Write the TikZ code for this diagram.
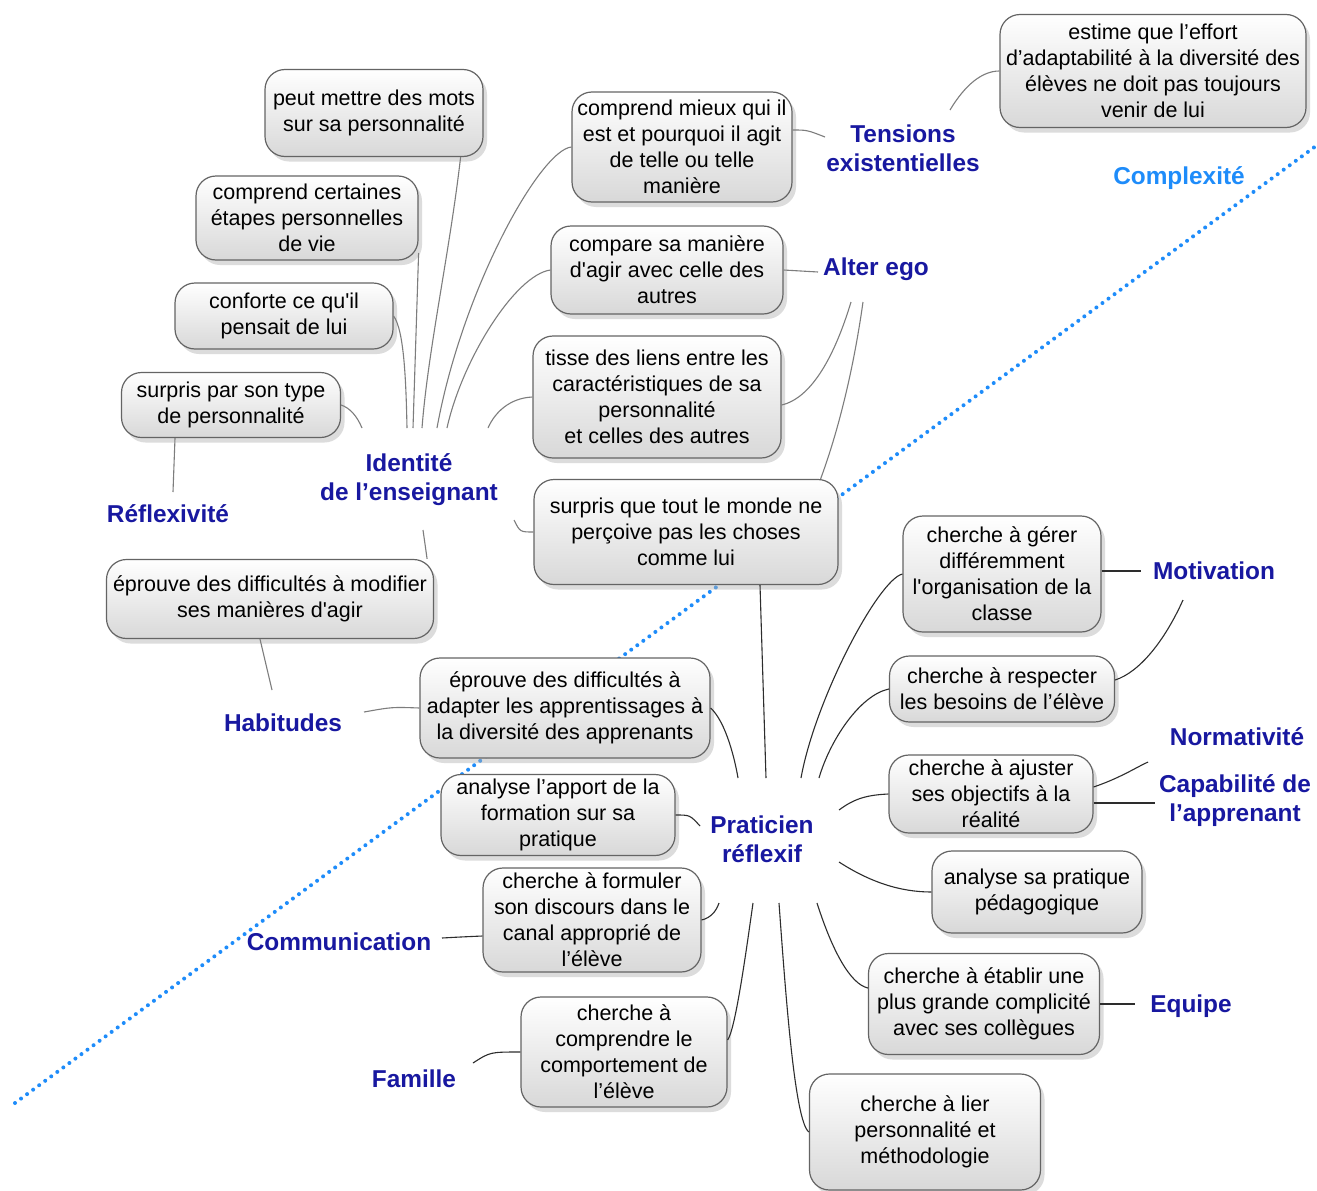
\documentclass[tikz,border=0pt]{standalone}
\usepackage{fontspec}
\setmainfont{Liberation Sans}
\usetikzlibrary{shadows}
\definecolor{labblue}{RGB}{24,24,160}
\definecolor{cxblue}{RGB}{30,140,250}
\definecolor{bxborder}{RGB}{100,100,100}
\definecolor{bxbottom}{RGB}{216,216,216}
\definecolor{lngray}{RGB}{125,125,125}
\definecolor{lndark}{RGB}{45,45,45}
\newcommand{\sq}{\textquotesingle}
\begin{document}
\begin{tikzpicture}[x=1pt,y=-1pt,
  bx/.style={draw=bxborder, line width=1.2pt, rounded corners=20pt, top color=white, bottom color=bxbottom,
    align=center, inner sep=0pt, font=\fontsize{21.5}{26}\selectfont,
    drop shadow={shadow xshift=4pt, shadow yshift=-5pt, fill=black!30, opacity=0.45}},
  lab/.style={text=labblue, font=\bfseries\fontsize{24.4}{29}\selectfont, align=center, inner sep=0pt},
  cg/.style={draw=lngray, line width=1.1pt},
  cd/.style={draw=lndark, line width=1.1pt},
]
\fill[white] (0,0) rectangle (1317,1191);
\useasboundingbox (0,0) rectangle (1317,1191);

% dotted diagonal
\coordinate (d1) at (15,1103);
\coordinate (d2) at (1320,143);
\draw[cxblue, line width=4pt, line cap=round, dash pattern=on 0pt off 7.5pt] (d1) -- (d2);

% boxes
\node[bx, minimum width=218pt, minimum height=87pt] (b1) at (374,113) {peut mettre des mots\\sur sa personnalité};
\node[bx, minimum width=222pt, minimum height=84pt] (b2) at (307,218) {comprend certaines\\étapes personnelles\\de vie};
\node[bx, minimum width=218pt, minimum height=66pt] (b3) at (284,316) {conforte ce qu\sq il\\pensait de lui};
\node[bx, minimum width=219pt, minimum height=65pt] (b4) at (231,405) {surpris par son type\\de personnalité};
\node[bx, minimum width=220pt, minimum height=110pt] (b5) at (682,147) {comprend mieux qui il\\est et pourquoi il agit\\de telle ou telle\\manière};
\node[bx, minimum width=232pt, minimum height=88pt] (b6) at (667,270) {compare sa manière\\d\sq agir avec celle des\\autres};
\node[bx, minimum width=248pt, minimum height=122pt] (b7) at (657,397) {tisse des liens entre les\\caractéristiques de sa\\personnalité\\et celles des autres};
\node[bx, minimum width=304pt, minimum height=105pt] (b8) at (686,532) {surpris que tout le monde ne\\perçoive pas les choses\\comme lui};
\node[bx, minimum width=306pt, minimum height=113pt] (b9) at (1153,71) {estime que l’effort\\d’adaptabilité à la diversité des\\élèves ne doit pas toujours\\venir de lui};
\node[bx, minimum width=327pt, minimum height=79pt] (b10) at (270,599) {éprouve des difficultés à modifier\\ses manières d\sq agir};
\node[bx, minimum width=290pt, minimum height=100pt] (b11) at (565,708) {éprouve des difficultés à\\adapter les apprentissages à\\la diversité des apprenants};
\node[bx, minimum width=234pt, minimum height=81pt] (b12) at (558,815) {analyse l’apport de la\\formation sur sa\\pratique};
\node[bx, minimum width=218pt, minimum height=104pt] (b13) at (592,920) {cherche à formuler\\son discours dans le\\canal approprié de\\l’élève};
\node[bx, minimum width=206pt, minimum height=110pt] (b14) at (624,1052) {cherche à\\comprendre le\\comportement de\\l’élève};
\node[bx, minimum width=198pt, minimum height=116pt] (b15) at (1002,574) {cherche à gérer\\différemment\\l\sq organisation de la\\classe};
\node[bx, minimum width=225pt, minimum height=66pt] (b16) at (1002,689) {cherche à respecter\\les besoins de l’élève};
\node[bx, minimum width=204pt, minimum height=78pt] (b17) at (991,794) {cherche à ajuster\\ses objectifs à la\\réalité};
\node[bx, minimum width=210pt, minimum height=82pt] (b18) at (1037,892) {analyse sa pratique\\pédagogique};
\node[bx, minimum width=231pt, minimum height=101pt] (b19) at (984,1004) {cherche à établir une\\plus grande complicité\\avec ses collègues};
\node[bx, minimum width=231pt, minimum height=116pt] (b20) at (925,1132) {cherche à lier\\personnalité et\\méthodologie};

% labels
\node[lab] (lt) at (903,148) {Tensions\\existentielles};
\node[lab] (la) at (876,269) {Alter ego};
\node[lab, text=cxblue] (lc) at (1179,178) {Complexité};
\node[lab] (li) at (409,480) {Identité\\de l’enseignant};
\node[lab] (lr) at (168,514) {Réflexivité};
\node[lab] (lh) at (283,723) {Habitudes};
\node[lab] (lp) at (762,839) {Praticien\\réflexif};
\node[lab] (lm) at (1214,571) {Motivation};
\node[lab] (ln) at (1237,737) {Normativité};
\node[lab] (lk) at (1235,801) {Capabilité de\\l’apprenant};
\node[lab] (le) at (1191,1006) {Equipe};
\node[lab] (lo) at (339,942) {Communication};
\node[lab] (lf) at (414,1079) {Famille};

% label-side connector ends
\coordinate (i1) at (422,428);
\coordinate (i2) at (413,428);
\coordinate (i3) at (407,428);
\coordinate (i4) at (362,428);
\coordinate (i5) at (437,428);
\coordinate (i6) at (447,428);
\coordinate (i7) at (488,428);
\coordinate (i8) at (514,520);
\coordinate (i10) at (423,530);
\coordinate (p8) at (766,778);
\coordinate (p11) at (738,778);
\coordinate (p15) at (801,778);
\coordinate (p16) at (819,778);
\coordinate (p17) at (839,810);
\coordinate (p12) at (700,826);
\coordinate (p18) at (839,862);
\coordinate (p19) at (817,903);
\coordinate (p20) at (779,903);
\coordinate (p14) at (753,903);
\coordinate (p13) at (719,903);
\coordinate (t1) at (825,137);
\coordinate (t2) at (950,110);
\coordinate (a1) at (818,272);
\coordinate (a2) at (851,302);
\coordinate (a3) at (863,302);
\coordinate (r1) at (173,492);
\coordinate (h1) at (272,690);
\coordinate (h2) at (364,712);
\coordinate (m1) at (1141,571);
\coordinate (m2) at (1183,600);
\coordinate (n1) at (1148,762);
\coordinate (k1) at (1155,803);
\coordinate (e1) at (1135,1004);
\coordinate (o1) at (442,938);
\coordinate (f1) at (473,1063);

% identity connectors
\draw[cg] ([xshift=-23pt]b1.south east) .. controls (450,250) and (428,350) .. (i1);
\draw[cg] ([yshift=-35pt]b2.east) -- (i2);
\draw[cg] (b3.east) .. controls (404,330) and (406,380) .. (i3);
\draw[cg] (b4.east) .. controls (350,408) and (357,416) .. (i4);
\draw[cg] (b5.west) .. controls (540,150) and (462,290) .. (i5);
\draw[cg] (b6.west) .. controls (515,275) and (462,360) .. (i6);
\draw[cg] (b7.west) .. controls (510,398) and (495,412) .. (i7);
\draw[cg] (i8) .. controls (520,532) .. (b8.west);
\draw[cg] (i10) -- ([xshift=-7pt]b10.north east);
\draw[cg] ([xshift=-56pt]b4.south) -- (r1);
\draw[cg] ([xshift=-10pt]b10.south) -- (h1);
\draw[cg] (h2) .. controls (392,707) .. (b11.west);

% tensions / alter ego
\draw[cg] ([yshift=17pt]b5.east) .. controls (807,130) .. (t1);
\draw[cg] (t2) .. controls (965,85) and (982,71) .. (b9.west);
\draw[cg] (b6.east) -- (a1);
\draw[cg] (a2) .. controls (835,355) and (812,398) .. ([yshift=-8pt]b7.east);
\draw[cg] (a3) .. controls (852,380) and (835,440) .. ([xshift=-18pt]b8.north east);

% praticien connectors
\draw[cd] ([xshift=74pt]b8.south) -- (p8);
\draw[cd] (b11.east) .. controls (726,722) and (735,760) .. (p11);
\draw[cd] (b15.west) .. controls (878,580) and (815,700) .. (p15);
\draw[cd] (b16.west) .. controls (860,695) and (830,740) .. (p16);
\draw[cd] (p17) .. controls (855,798) and (868,795) .. (b17.west);
\draw[cd] (b12.east) .. controls (690,815) .. (p12);
\draw[cd] (p18) .. controls (870,882) and (900,892) .. (b18.west);
\draw[cd] (p19) .. controls (832,950) and (850,984) .. ([yshift=16pt]b19.west);
\draw[cd] (p20) .. controls (786,1000) and (795,1122) .. (b20.west);
\draw[cd] (p14) .. controls (745,960) and (735,1030) .. ([yshift=12pt]b14.east);
\draw[cd] (p13) .. controls (716,912) and (710,918) .. (b13.east);
\draw[cd] (b15.east |- m1) -- (m1);
\draw[cd] (m2) .. controls (1165,640) and (1140,672) .. ([yshift=9pt]b16.east);
\draw[cd] ([yshift=7pt]b17.east) .. controls (1120,778) and (1135,768) .. (n1);
\draw[cd] ([yshift=-9pt]b17.east) -- (k1);
\draw[cd] (b19.east) -- (e1);
\draw[cd] (o1) .. controls (460,937) .. ([yshift=-16pt]b13.west);
\draw[cd] (f1) .. controls (490,1052) .. (b14.west);
\end{tikzpicture}
\end{document}
